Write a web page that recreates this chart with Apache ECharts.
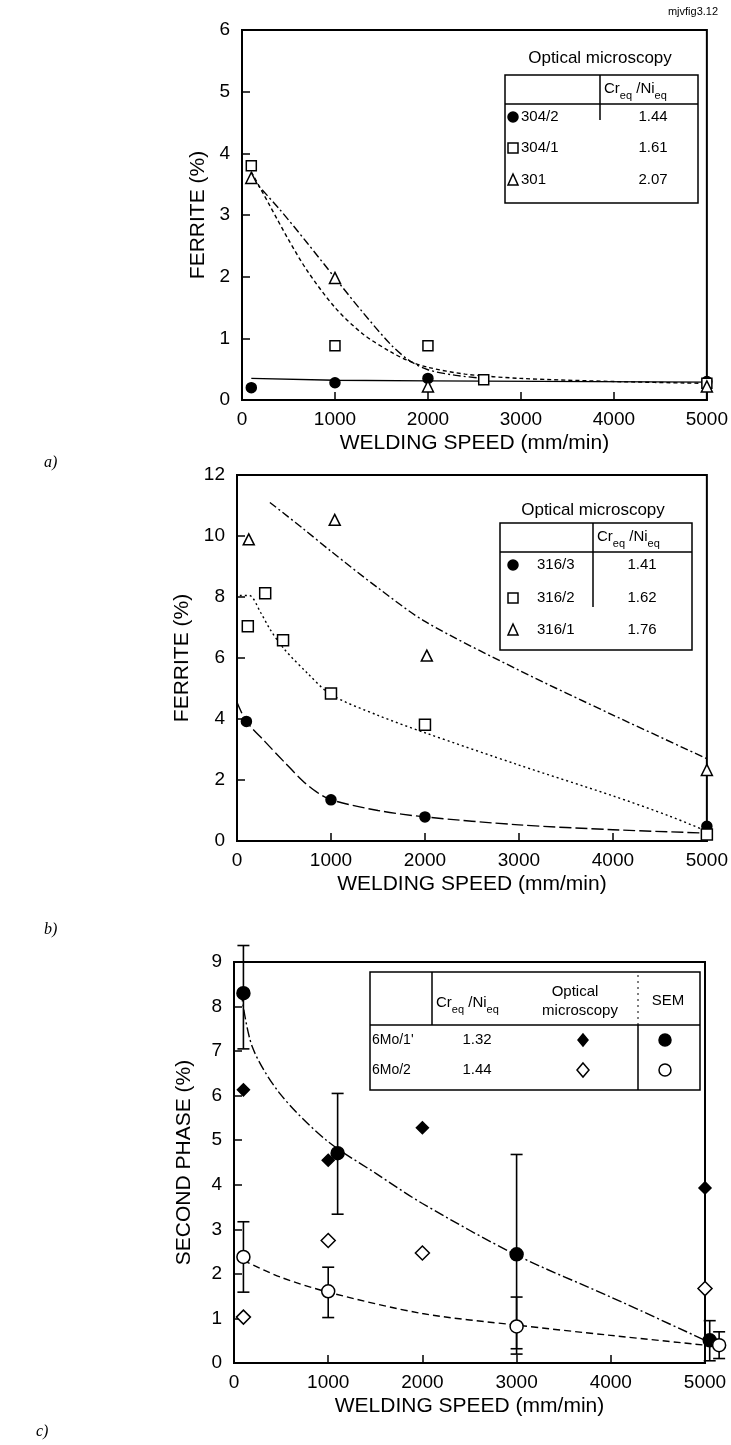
<!DOCTYPE html>
<html><head><meta charset="utf-8">
<script src="https://cdn.jsdelivr.net/npm/echarts@6/dist/echarts.min.js"></script>
<style>html,body{margin:0;padding:0;background:#fff}#c{width:731px;height:1445px}</style>
</head><body><div id="c"></div>
<script>
// ---------- data ----------
const xTickLabels = ['0','1000','2000','3000','4000','5000'];
const xTitle = 'WELDING SPEED (mm/min)';
const yTitles = ['FERRITE (%)', 'FERRITE (%)', 'SECOND PHASE (%)'];

// panel a) measured points
const a_304_2 = [[100,0.2],[1000,0.28],[2000,0.35],[5000,0.3]];
const a_304_1 = [[100,3.8],[1000,0.88],[2000,0.88],[2600,0.33],[5000,0.27]];
const a_301   = [[100,3.6],[1000,1.98],[2000,0.22],[5000,0.22]];
// panel a) fitted curves
const a_fit_304_2 = [[100,0.35],[1000,0.32],[2000,0.31],[5000,0.29]];
const a_fit_304_1 = [[100,3.7],[300,3.15],[500,2.6],[700,2.1],[1000,1.5],[1300,1.07],[1600,0.78],[1800,0.63],[2000,0.53],[2400,0.42],[3000,0.35],[4000,0.3],[5000,0.27]];
const a_fit_301   = [[100,3.6],[400,3.1],[700,2.55],[1000,1.98],[1300,1.42],[1600,0.9],[1800,0.64],[2000,0.49],[2300,0.4],[2600,0.35]];

// panel b) measured points
const b_316_3 = [[100,3.92],[1000,1.35],[2000,0.79],[5000,0.48]];
const b_316_2 = [[115,7.04],[300,8.12],[490,6.58],[1000,4.84],[2000,3.81],[5000,0.21]];
const b_316_1 = [[125,9.89],[1040,10.53],[2020,6.08],[5000,2.33]];
// panel b) fitted curves
const b_fit_316_3 = [[0,4.55],[100,3.92],[300,3.25],[500,2.6],[700,1.97],[850,1.6],[1000,1.35],[1500,1.0],[2000,0.79],[3000,0.53],[4000,0.37],[5000,0.26]];
const b_fit_316_2 = [[30,8.05],[130,8.05],[250,7.5],[350,6.95],[500,6.3],[750,5.5],[1000,4.8],[1500,4.12],[2000,3.55],[3000,2.49],[4000,1.48],[4600,0.82],[5000,0.32]];
const b_fit_316_1 = [[350,11.1],[700,10.25],[1000,9.5],[1500,8.3],[2000,7.2],[3000,5.6],[4000,4.13],[5000,2.7]];

// panel c) optical microscopy
const c_opt_1 = [[100,6.13],[1000,4.55],[2000,5.28],[5000,3.93]];
const c_opt_2 = [[100,1.03],[1000,2.75],[2000,2.47],[5000,1.67]];
// panel c) SEM with error bars [x, value] and [x, low, high]
const c_sem_1 = [[100,8.3],[1100,4.71],[3000,2.44],[5050,0.51]];
const c_sem_1_err = [[100,7.05,9.37],[1100,3.34,6.05],[3000,0.2,4.68],[5050,0.05,0.95]];
const c_sem_2 = [[100,2.38],[1000,1.61],[3000,0.82],[5150,0.4]];
const c_sem_2_err = [[100,1.59,3.17],[1000,1.02,2.15],[3000,0.32,1.48],[5150,0.1,0.7]];
// panel c) fitted curves
const c_fit_1 = [[75,8.33],[195,7.09],[490,6.04],[980,5.0],[1510,4.25],[2000,3.58],[3000,2.42],[4000,1.48],[5000,0.51]];
const c_fit_2 = [[100,2.3],[490,1.93],[1000,1.59],[2000,1.11],[3000,0.85],[4000,0.62],[5000,0.4]];

// legend tables
const legA = {rows:['304/2','304/1','301'], ratios:['1.44','1.61','2.07']};
const legB = {rows:['316/3','316/2','316/1'], ratios:['1.41','1.62','1.76']};
const legC = {rows:["6Mo/1'","6Mo/2"], ratios:['1.32','1.44']};

// ---------- chart ----------
const FONT = 'Liberation Sans, Arial, sans-serif';
const chart = echarts.init(document.getElementById('c'), null, {renderer:'canvas'});

const grids = [
  {left:242, top:30, width:465, height:370},
  {left:237, top:475, width:470, height:366},
  {left:234, top:962, width:471, height:401}
];
const yCfg = [{max:6,interval:1},{max:12,interval:2},{max:9,interval:1}];
const yNameGap = [32, 30, 39];

function xAxis(i){
  return {type:'value', gridIndex:i, min:0, max:5000, interval:1000,
    axisLine:{lineStyle:{color:'#000',width:2}},
    axisTick:{inside:true,length:8,lineStyle:{color:'#000',width:1.5}},
    axisLabel:{color:'#000',fontSize:19,fontFamily:FONT,margin:10,
      formatter:(v)=>xTickLabels[Math.round(v/1000)]},
    splitLine:{show:false},
    name:xTitle, nameLocation:'middle', nameGap:33,
    nameTextStyle:{color:'#000',fontSize:21,fontFamily:FONT}};
}
function yAxis(i){
  return {type:'value', gridIndex:i, min:0, max:yCfg[i].max, interval:yCfg[i].interval,
    axisLine:{lineStyle:{color:'#000',width:2}},
    axisTick:{inside:true,length:8,lineStyle:{color:'#000',width:1.5}},
    axisLabel:{color:'#000',fontSize:19,fontFamily:FONT,margin:12},
    splitLine:{show:false},
    name:yTitles[i], nameLocation:'middle', nameGap:yNameGap[i],
    nameTextStyle:{color:'#000',fontSize:21,fontFamily:FONT}};
}
function curve(gi, data, dash, smooth){
  return {type:'line', xAxisIndex:gi, yAxisIndex:gi, data, smooth: smooth===undefined?0.3:smooth,
    showSymbol:false, silent:true, z:2,
    lineStyle:{color:'#000', width:1.4, type:dash}};
}
function pts(gi, data, symbol, size, filled){
  return {type:'scatter', xAxisIndex:gi, yAxisIndex:gi, data, symbol, symbolSize:size, clip:false, z:4,
    itemStyle:{color: filled?'#000':'#fff', borderColor:'#000', borderWidth:1.5, opacity:1}};
}
function errBars(gi, data){
  return {type:'custom', xAxisIndex:gi, yAxisIndex:gi, data, clip:false, z:3,
    encode:{x:0, y:[1,2]},
    renderItem(params, api){
      const x=api.value(0), lo=api.value(1), hi=api.value(2);
      const p1=api.coord([x,lo]), p2=api.coord([x,hi]); const w=6;
      const st={stroke:'#000', lineWidth:1.6};
      return {type:'group', children:[
        {type:'line', shape:{x1:p1[0],y1:p1[1],x2:p2[0],y2:p2[1]}, style:st},
        {type:'line', shape:{x1:p1[0]-w,y1:p1[1],x2:p1[0]+w,y2:p1[1]}, style:st},
        {type:'line', shape:{x1:p2[0]-w,y1:p2[1],x2:p2[0]+w,y2:p2[1]}, style:st}
      ]};
    }};
}

// ---- legend graphics ----
const G = [];
function txt(x,y,text,size,align,extra){
  G.push(Object.assign({type:'text', x, y, silent:true, z:10,
    style:{text, fill:'#000', font:(size||15)+'px '+FONT, textAlign:align||'left', textVerticalAlign:'middle'}}, extra||{}));
}
function ln(x1,y1,x2,y2,w,dash){
  G.push({type:'line', silent:true, z:10, shape:{x1,y1,x2,y2}, style:{stroke:'#000', lineWidth:w||1.5, lineDash:dash||null}});
}
function sym(kind, cx, cy, r, filled){
  const style={fill:filled?'#000':'#fff', stroke:'#000', lineWidth:1.5};
  if(kind==='circle') G.push({type:'circle', silent:true, z:10, shape:{cx,cy,r}, style});
  else if(kind==='rect') G.push({type:'rect', silent:true, z:10, shape:{x:cx-r,y:cy-r,width:2*r,height:2*r}, style});
  else if(kind==='triangle') G.push({type:'polygon', silent:true, z:10, shape:{points:[[cx,cy-r-1],[cx+r,cy+r],[cx-r,cy+r]]}, style});
  else if(kind==='diamond') G.push({type:'polygon', silent:true, z:10, shape:{points:[[cx,cy-r-1],[cx+r,cy],[cx,cy+r+1],[cx-r,cy]]}, style});
}
function crni(x,y){
  G.push({type:'text', x, y, silent:true, z:10, style:{
    text:'{n|Cr}{s|eq}{n| /Ni}{s|eq}', fill:'#000', textVerticalAlign:'middle',
    rich:{n:{fontSize:15,fontFamily:FONT,lineHeight:24,verticalAlign:'middle',fill:'#000'},
          s:{fontSize:11,fontFamily:FONT,lineHeight:24,verticalAlign:'bottom',fill:'#000'}}}});
}
// table a
txt(600,58,'Optical microscopy',17,'center');
G.push({type:'rect', silent:true, z:10, shape:{x:505,y:75,width:193,height:128}, style:{fill:'#fff',stroke:'#000',lineWidth:1.5}});
ln(505,104,698,104); ln(600,75,600,120);
crni(604,89);
const symsA=['circle','rect','triangle'], fillA=[true,false,false], rowYA=[117,148,180];
legA.rows.forEach((r,i)=>{ sym(symsA[i],513,rowYA[i],5,fillA[i]); txt(521,rowYA[i],r,15); txt(653,rowYA[i],legA.ratios[i],15,'center'); });
// table b
txt(593,510,'Optical microscopy',17,'center');
G.push({type:'rect', silent:true, z:10, shape:{x:500,y:523,width:192,height:127}, style:{fill:'#fff',stroke:'#000',lineWidth:1.5}});
ln(500,552,692,552); ln(593,523,593,607);
crni(597,537);
const rowYB=[565,598,630];
legB.rows.forEach((r,i)=>{ sym(symsA[i],513,rowYB[i],5,fillA[i]); txt(537,rowYB[i],r,15); txt(642,rowYB[i],legB.ratios[i],15,'center'); });
// table c
G.push({type:'rect', silent:true, z:10, shape:{x:370,y:972,width:330,height:118}, style:{fill:'#fff',stroke:'#000',lineWidth:1.5}});
ln(370,1025,700,1025); ln(432,972,432,1025); ln(638,975,638,1025,1,[2,4]); ln(638,1025,638,1090);
crni(436,1003);
txt(575,992,'Optical',15,'center'); txt(580,1011,'microscopy',15,'center'); txt(668,1001,'SEM',15,'center');
const rowYC=[1040,1070];
legC.rows.forEach((r,i)=>{ txt(372,rowYC[i],r,14); txt(477,rowYC[i],legC.ratios[i],15,'center');
  sym('diamond',583,rowYC[i],i===0?5:6,i===0); sym('circle',665,rowYC[i],6,i===0); });
// watermark & panel letters
txt(693,12,'mjvfig3.12',11,'center');
const letFont = 'italic 16px "Liberation Serif", serif';
G.push({type:'text', x:44, y:463, silent:true, style:{text:'a)', fill:'#000', font:letFont, textVerticalAlign:'middle'}});
G.push({type:'text', x:44, y:930, silent:true, style:{text:'b)', fill:'#000', font:letFont, textVerticalAlign:'middle'}});
G.push({type:'text', x:36, y:1432, silent:true, style:{text:'c)', fill:'#000', font:letFont, textVerticalAlign:'middle'}});

const option = {
  backgroundColor:'#fff', animation:false,
  grid: grids.map(g=>Object.assign({show:true, borderColor:'#000', borderWidth:2, backgroundColor:'transparent'}, g)),
  xAxis:[0,1,2].map(xAxis),
  yAxis:[0,1,2].map(yAxis),
  series:[
    curve(0,a_fit_304_2,'solid',false),
    curve(0,a_fit_304_1,[4,3]),
    curve(0,a_fit_301,[8,3,2,3]),
    pts(0,a_304_2,'circle',10,true),
    pts(0,a_304_1,'rect',10,false),
    pts(0,a_301,'triangle',11,false),

    curve(1,b_fit_316_3,[12,4]),
    curve(1,b_fit_316_2,[2,3]),
    curve(1,b_fit_316_1,[8,3,2,3]),
    pts(1,b_316_3,'circle',10,true),
    pts(1,b_316_2,'rect',11,false),
    pts(1,b_316_1,'triangle',11,false),

    curve(2,c_fit_1,[10,3,2,3]),
    curve(2,c_fit_2,[7,4]),
    errBars(2,c_sem_1_err),
    errBars(2,c_sem_2_err),
    pts(2,c_opt_1,'diamond',12,true),
    pts(2,c_opt_2,'diamond',14,false),
    pts(2,c_sem_1,'circle',13,true),
    pts(2,c_sem_2,'circle',13,false)
  ],
  graphic: G
};
chart.setOption(option);
</script></body></html>
